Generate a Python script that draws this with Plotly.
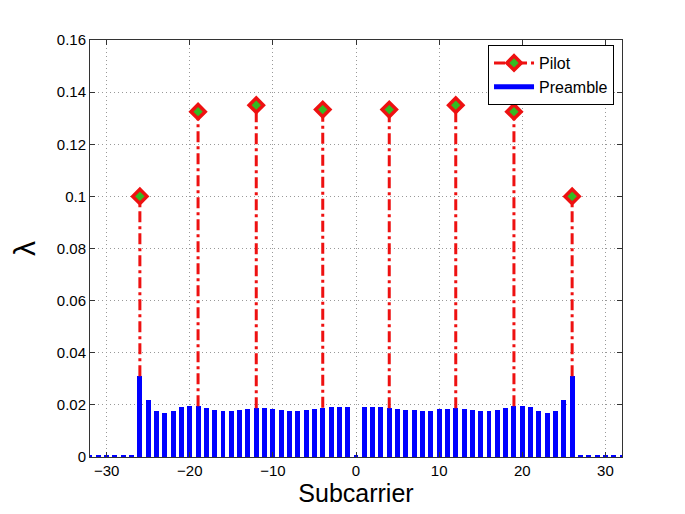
import plotly.graph_objects as go

# subcarrier indices -32..32
subcarriers = list(range(-32, 33))
# preamble lambda per subcarrier (tiny values where nulled)
preamble = [
    0.0006, 0.0006, 0.0006, 0.0006, 0.0006, 0.0006,          # -32..-27
    0.0310, 0.0220, 0.0178, 0.0169, 0.0178, 0.0190, 0.0197,  # -26..-20
    0.0195, 0.0189, 0.0181, 0.0177, 0.0177, 0.0181, 0.0185,  # -19..-13
    0.0187, 0.0187, 0.0183, 0.0180, 0.0177, 0.0178, 0.0181,  # -12..-6
    0.0185, 0.0189, 0.0191, 0.0191, 0.0191,                  # -5..-1
    0.0006,                                                  # 0
    0.0191, 0.0191, 0.0190, 0.0187, 0.0185, 0.0181, 0.0180,  # 1..7
    0.0177, 0.0178, 0.0183, 0.0186, 0.0187, 0.0185, 0.0181,  # 8..14
    0.0177, 0.0176, 0.0180, 0.0187, 0.0195, 0.0197, 0.0190,  # 15..21
    0.0178, 0.0169, 0.0178, 0.0220, 0.0310,                  # 22..26
    0.0006, 0.0006, 0.0006, 0.0006, 0.0006, 0.0006,          # 27..32
]

pilot_x = [-26, -19, -12, -4, 4, 12, 19, 26]
pilot_y = [0.100, 0.1325, 0.1350, 0.1333, 0.1333, 0.1350, 0.1325, 0.100]

RED = "#ee1111"
GREEN = "#33bb22"
BLUE = "#0000ff"
STEM_DASH = "11px,4px,3px,4px"

# stems run from the top of the preamble bar (bars hide the rest) up to the pilot
stem_x, stem_y = [], []
for px, py in zip(pilot_x, pilot_y):
    stem_x += [px, px, None]
    stem_y += [preamble[subcarriers.index(px)], py, None]

pilot_marker = dict(symbol="diamond", size=11, color=GREEN,
                    line=dict(color=RED, width=3.5))

fig = go.Figure()
fig.add_trace(go.Bar(
    x=subcarriers, y=preamble, width=0.6, marker_color=BLUE,
    marker_line_width=0, showlegend=False,
))
fig.add_trace(go.Scatter(
    x=stem_x, y=stem_y, mode="lines", showlegend=False,
    line=dict(color=RED, width=3, dash=STEM_DASH),
))
fig.add_trace(go.Scatter(
    x=pilot_x, y=pilot_y, mode="markers", showlegend=False,
    marker=pilot_marker,
))
# legend-only entries
fig.add_trace(go.Scatter(
    x=[None], y=[None], mode="lines+markers", name="Pilot",
    line=dict(color=RED, width=3, dash=STEM_DASH), marker=pilot_marker,
))
fig.add_trace(go.Scatter(
    x=[None], y=[None], mode="lines", name="Preamble",
    line=dict(color=BLUE, width=5),
))

axis_common = dict(
    showline=True, linecolor="#333333", linewidth=1, mirror="ticks",
    ticks="inside", ticklen=5, tickcolor="#333333",
    showgrid=True, gridcolor="#999999", griddash="1px,3px", gridwidth=1,
    zeroline=False, tickfont=dict(size=15, color="black"),
)

fig.update_layout(
    width=685, height=514,
    margin=dict(l=82, r=71, t=32, b=65),
    paper_bgcolor="white", plot_bgcolor="white",
    font=dict(family="Liberation Sans, Arial, sans-serif", color="black"),
    bargap=0,
    legend=dict(x=0.985, y=0.988, xanchor="right", yanchor="top",
                bgcolor="white", bordercolor="black", borderwidth=1,
                font=dict(size=16), tracegroupgap=0, itemwidth=40),
    xaxis=dict(range=[-32, 32], tickvals=[-30, -20, -10, 0, 10, 20, 30],
               title=dict(text="Subcarrier", font=dict(size=25), standoff=4),
               **axis_common),
    yaxis=dict(range=[0, 0.16], dtick=0.02,
               title=dict(text="λ", font=dict(size=30), standoff=12),
               **axis_common),
)

fig.write_html("out.html")
